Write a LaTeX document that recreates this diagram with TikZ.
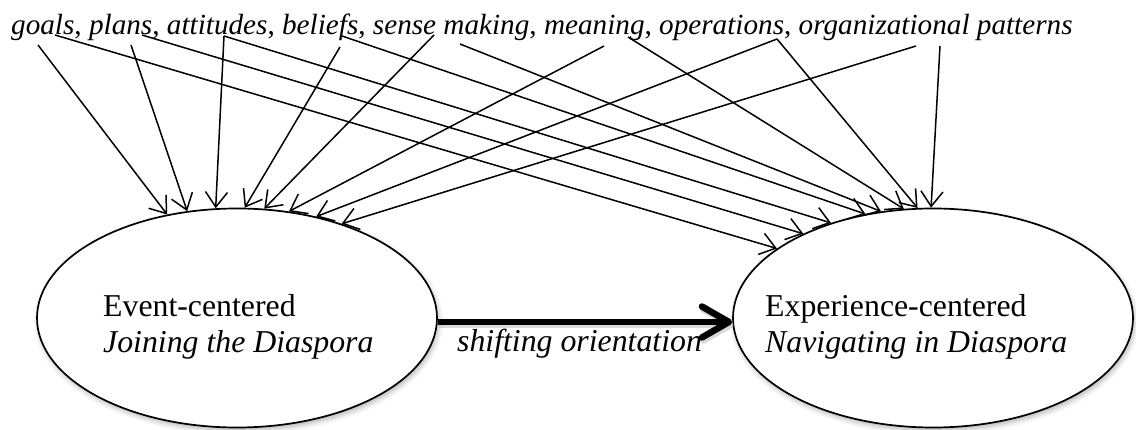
\documentclass[tikz,border=0pt]{standalone}
\usepackage{fontspec}
\setmainfont{Liberation Serif}
\usetikzlibrary{arrows.meta,shapes.geometric,shadows.blur}

\begin{document}
\begin{tikzpicture}[x=1pt,y=-1pt,
  oval/.style={ellipse, draw, line width=1.7pt, fill=white,
    minimum width=400pt, minimum height=219pt, inner sep=0pt,
    blur shadow={shadow xshift=1.5pt, shadow yshift=-3pt,
      shadow blur radius=5pt, shadow opacity=30}},
  link/.style={line width=1.5pt, -{Straight Barb[length=15pt 0, width=22pt 0]}},
  shiftarrow/.style={line width=6.5pt, -{Straight Barb[length=27pt 0, width=31pt 0, round]}},
  ovaltext/.style={font=\fontsize{31.8pt}{38pt}\selectfont, inner sep=0pt, anchor=base west},
  termline/.style={font=\fontsize{29.2pt}{35pt}\selectfont, inner sep=0pt, anchor=base west}]

\useasboundingbox (0,0) rectangle (1136,430);

% the two orientations
\node[oval] (evt) at (237,318) {};
\node[oval] (exp) at (933,318) {};
\node[ovaltext] (evtA) at (103,317) {Event-centered};
\node[ovaltext] (evtB) at (103,353) {\itshape Joining the Diaspora};
\node[ovaltext] (expA) at (765,317) {Experience-centered};
\node[ovaltext] (expB) at (765,353) {\itshape Navigating in Diaspora};

% the list of terms along the top
\node[termline] (terms) at (11,35) {\textit{goals}, \textit{plans}, \textit{attitudes}, \textit{beliefs}, \textit{sense making}, \textit{meaning}, \textit{operations}, \textit{organizational patterns}};

% where the connectors leave each term
\coordinate (goalsL) at (38,45);   \coordinate (goalsR) at (55,35);
\coordinate (plansL) at (131,45);  \coordinate (plansR) at (142,35);
\coordinate (attL)   at (224,36);  \coordinate (attR)   at (224,36);
\coordinate (belL)   at (340,47);  \coordinate (belR)   at (342,36);
\coordinate (senseL) at (434,35);  \coordinate (senseR) at (460,44);
\coordinate (meanL)  at (604,46);  \coordinate (meanR)  at (628,37);
\coordinate (operL)  at (777,39);  \coordinate (operR)  at (777,39);
\coordinate (orgL)   at (916,46);  \coordinate (orgR)   at (940,46);

% connectors to the event-centered orientation
\draw[link] (goalsL) -- (evt.124.6);
\draw[link] (plansL) -- (evt.115.9);
\draw[link] (attL)   -- (evt.101.2);
\draw[link] (belL)   -- (evt.86.9);
\draw[link] (senseL) -- (evt.76.8);
\draw[link] (meanL)  -- (evt.64.5);
\draw[link] (operL)  -- (evt.52.5);
\draw[link] (orgL)   -- (evt.42.8);

% connectors to the experience-centered orientation
\draw[link] (goalsR) -- (exp.156.1);
\draw[link] (plansR) -- (exp.147.4);
\draw[link] (attR)   -- (exp.137.5);
\draw[link] (belR)   -- (exp.123.8);
\draw[link] (senseR) -- (exp.116.8);
\draw[link] (meanR)  -- (exp.105);
\draw[link] (operR)  -- (exp.98.8);
\draw[link] (orgR)   -- (exp.91.5);

% the shift between the two
\draw[shiftarrow, draw=black!25, opacity=0.6] ([xshift=1.5pt,yshift=-7pt]evt.east) -- ([xshift=1.5pt,yshift=-7pt]exp.west);
\draw[shiftarrow] ([yshift=-4pt]evt.east) -- ([yshift=-4pt]exp.west);
\node[ovaltext] (shiftlabel) at (457,352) {\itshape shifting orientation};
\end{tikzpicture}
\end{document}
